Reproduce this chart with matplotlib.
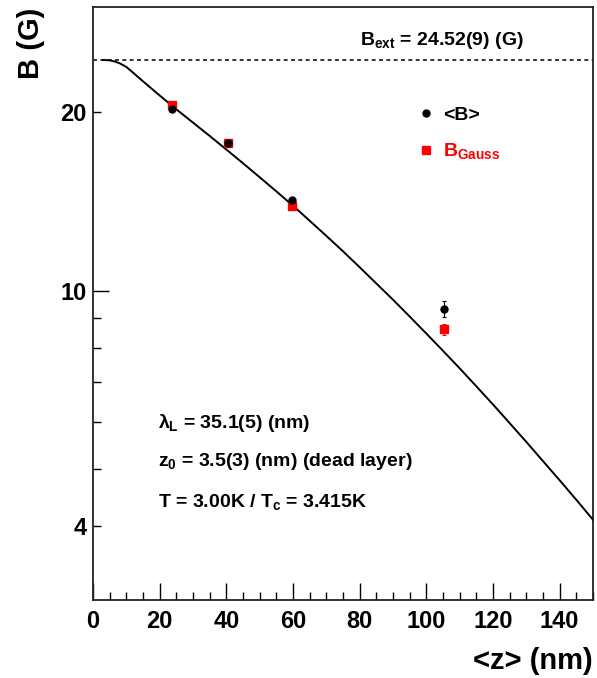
"""
Field profile B(<z>) from LE-muSR: mean field and Gaussian fit field
versus mean implantation depth, with the London-model fit curve.
"""

import matplotlib

matplotlib.use("Agg")
import matplotlib.pyplot as plt
from matplotlib.ticker import FixedLocator, FuncFormatter

# Data
depth_nm = [23.7, 40.6, 59.6, 105.4]
b_mean = [20.24, 17.73, 14.22, 9.31]
b_mean_err = [0.10, 0.10, 0.10, 0.29]
b_gauss = [20.58, 17.73, 13.90, 8.60]
b_gauss_err = [0.10, 0.10, 0.10, 0.19]

# Fit curve
curve_z = [3.0, 3.5, 5, 6.5, 8, 10, 12, 15, 20, 25, 30, 35, 40, 45, 50, 55,
           60, 65, 70, 75, 80, 85, 90, 95, 100, 105, 110, 115, 120, 125, 130,
           135, 140, 145, 150]
curve_b = [24.52, 24.52, 24.49, 24.38, 24.21, 23.87, 23.35, 22.57, 21.36,
           20.24, 19.22, 18.25, 17.31, 16.41, 15.54, 14.71, 13.91, 13.12,
           12.37, 11.65, 10.95, 10.28, 9.65, 9.04, 8.46, 7.91, 7.39, 6.89,
           6.42, 5.97, 5.55, 5.15, 4.78, 4.43, 4.10]

b_ext = 24.52
y_major = [10]
y_minor = [4, 5, 6, 7, 8, 9, 20]
y_labelled = [4, 20]


def apply_root_style() -> None:
    """Bold Helvetica-like text, as in the ROOT canvas."""
    plt.rcParams.update(
        {
            "font.family": "Liberation Sans",
            "font.weight": "bold",
            "axes.labelweight": "bold",
            "mathtext.fontset": "custom",
            "mathtext.rm": "Liberation Sans:bold",
            "mathtext.it": "Liberation Sans:bold",
            "mathtext.bf": "Liberation Sans:bold",
            "mathtext.sf": "Liberation Sans:bold",
            "axes.linewidth": 1.3,
            "axes.edgecolor": "#222222",
        }
    )


def main() -> None:
    apply_root_style()
    fig = plt.figure(figsize=(5.97, 6.78), dpi=100)
    ax = fig.add_axes([0.1558, 0.1150, 0.8375, 0.8742])

    ax.set_yscale("log")
    ax.set_xlim(0, 150)
    ax.set_ylim(3.0, 30.1)

    # External field reference
    ax.axhline(b_ext, color="black", lw=1.1, dashes=(2.6, 2.2))

    # Fit curve
    ax.plot(curve_z, curve_b, color="black", lw=1.4, zorder=3)

    # Data with error bars
    ax.errorbar(depth_nm, b_gauss, yerr=b_gauss_err, fmt="none", ecolor="red",
                elinewidth=0.8, capsize=1.6, capthick=0.8, zorder=4)
    ax.errorbar(depth_nm, b_mean, yerr=b_mean_err, fmt="none", ecolor="black",
                elinewidth=0.8, capsize=1.6, capthick=0.8, zorder=5)
    ax.plot(depth_nm, b_gauss, "s", color="red", ms=5.2, mec="red",
            label=r"$B_{Gauss}$", zorder=6)
    ax.plot(depth_nm, b_mean, "o", color="black", ms=5.0, label="<B>", zorder=7)

    handles, labels = ax.get_legend_handles_labels()
    ax.legend(handles[::-1], labels[::-1], loc="upper left",
              bbox_to_anchor=(0.650, 0.833), frameon=False, fontsize=14,
              handlelength=0.8, handletextpad=0.5, labelspacing=0.9,
              borderpad=0, borderaxespad=0, labelcolor=["black", "red"])

    # Annotations
    ax.text(80.1, 26.0, r"$B_{ext}$ = 24.52(9) (G)", fontsize=14,
            va="baseline", ha="left")
    ax.text(19.6, 5.855, r"$\lambda_{L}$ = 35.1(5) (nm)", fontsize=14,
            va="baseline", ha="left")
    ax.text(19.6, 5.044, r"$z_{0}$ = 3.5(3) (nm) (dead layer)", fontsize=14,
            va="baseline", ha="left")
    ax.text(19.6, 4.316, r"T = 3.00K / $T_{c}$ = 3.415K", fontsize=14,
            va="baseline", ha="left")

    # Ticks
    ax.set_xticks(range(0, 151, 20))
    ax.set_xticks(range(0, 151, 5), minor=True)
    ax.yaxis.set_major_locator(FixedLocator(y_major))
    ax.yaxis.set_minor_locator(FixedLocator(y_minor))
    ax.yaxis.set_major_formatter(FuncFormatter(lambda v, _: f"{v:g}"))
    ax.yaxis.set_minor_formatter(
        FuncFormatter(lambda v, _: f"{v:g}" if round(v) in y_labelled else "")
    )
    ax.tick_params(axis="x", which="major", direction="in", length=12,
                   width=1.0, labelsize=17, pad=7, top=False)
    ax.tick_params(axis="x", which="minor", direction="in", length=5.8,
                   width=1.0, top=False)
    ax.tick_params(axis="y", which="major", direction="in", length=11.5,
                   width=1.0, labelsize=17, pad=4.5, right=False)
    ax.tick_params(axis="y", which="minor", direction="in", length=5.4,
                   width=1.0, labelsize=17, pad=4.5, right=False)

    ax.set_xlabel("<z> (nm)", fontsize=21, loc="right")
    ax.set_ylabel("B (G)", fontsize=21, loc="top")
    ax.xaxis.set_label_coords(1.0, -0.080)
    ax.yaxis.set_label_coords(-0.096, 1.0)

    fig.savefig("out.png", dpi=100)


if __name__ == "__main__":
    main()
